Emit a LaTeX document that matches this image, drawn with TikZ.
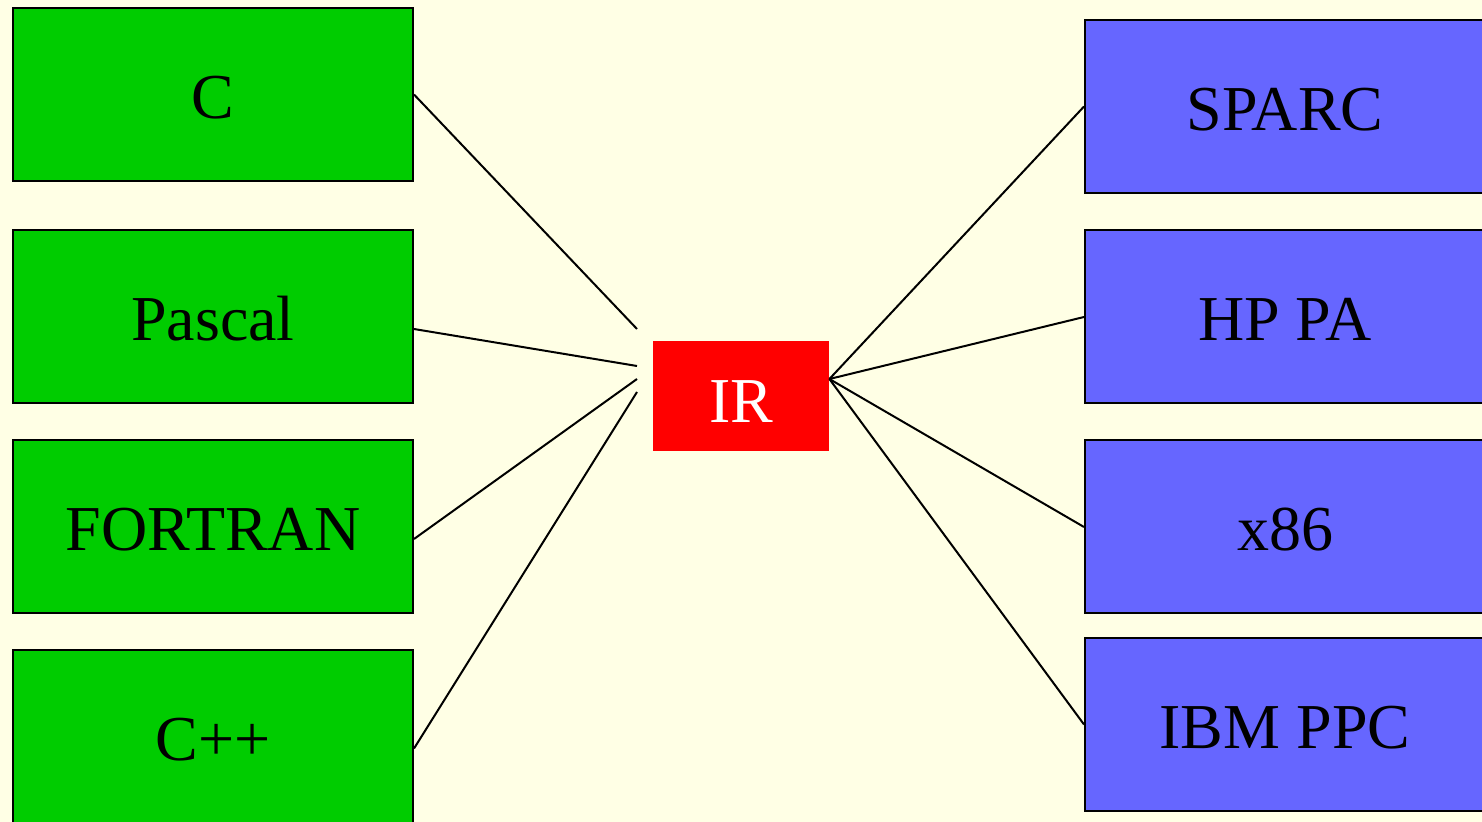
\documentclass[tikz,border=0pt]{standalone}
\usepackage{fontspec}
\setmainfont{Liberation Serif}
\definecolor{paper}{HTML}{FFFFE5}
\definecolor{langgreen}{HTML}{00CC00}
\definecolor{cpublue}{HTML}{6666FF}
\definecolor{irred}{HTML}{FF0000}
\begin{document}
\begin{tikzpicture}[x=0.5pt,y=-0.5pt,
  box/.style={draw=black, line width=1pt, minimum width=200pt, minimum height=86.5pt,
              inner sep=0pt, text height=24pt, text depth=0pt,
              font=\fontsize{32}{38}\selectfont},
  front/.style={box, fill=langgreen},
  back/.style={box, fill=cpublue},
  link/.style={draw=black, line width=1pt}]
  \fill[paper] (0,0) rectangle (1482,822);
  \useasboundingbox (0,0) rectangle (1482,822);
  \clip (0,0) rectangle (1482,822);

  % source languages
  \node[front] (c)       at (213,94.5)  {C};
  \node[front] (pascal)  at (213,317)   {Pascal};
  \node[front] (fortran) at (213,527)   {FORTRAN};
  \node[front] (cpp)     at (213,736.5) {C++};

  % target machines
  \node[back] (sparc) at (1285,106.5) {SPARC};
  \node[back] (hppa)  at (1285,317)   {HP PA};
  \node[back] (x86)   at (1285,527)   {x86};
  \node[back] (ibm)   at (1285,724.5) {IBM PPC};

  % intermediate representation
  \node[fill=irred, text=white, minimum width=88pt, minimum height=55pt, inner sep=0pt,
        text height=27pt, text depth=0pt,
        font=\fontsize{32}{38}\selectfont] (ir) at (741,396) {IR};

  % loose ends of the front-end links
  \coordinate (l1) at (637,329);
  \coordinate (l2) at (637,366);
  \coordinate (l3) at (637,379);
  \coordinate (l4) at (637,392);

  \draw[link] (c.east) -- (l1);
  \draw[link] ([yshift=-6pt]pascal.east) -- (l2);
  \draw[link] ([yshift=-6pt]fortran.east) -- (l3);
  \draw[link] ([yshift=-6pt]cpp.east) -- (l4);

  \draw[link] ([yshift=8.5pt]ir.east) -- (sparc.west);
  \draw[link] ([yshift=8.5pt]ir.east) -- (hppa.west);
  \draw[link] ([yshift=8.5pt]ir.east) -- (x86.west);
  \draw[link] ([yshift=8.5pt]ir.east) -- (ibm.west);
\end{tikzpicture}
\end{document}
